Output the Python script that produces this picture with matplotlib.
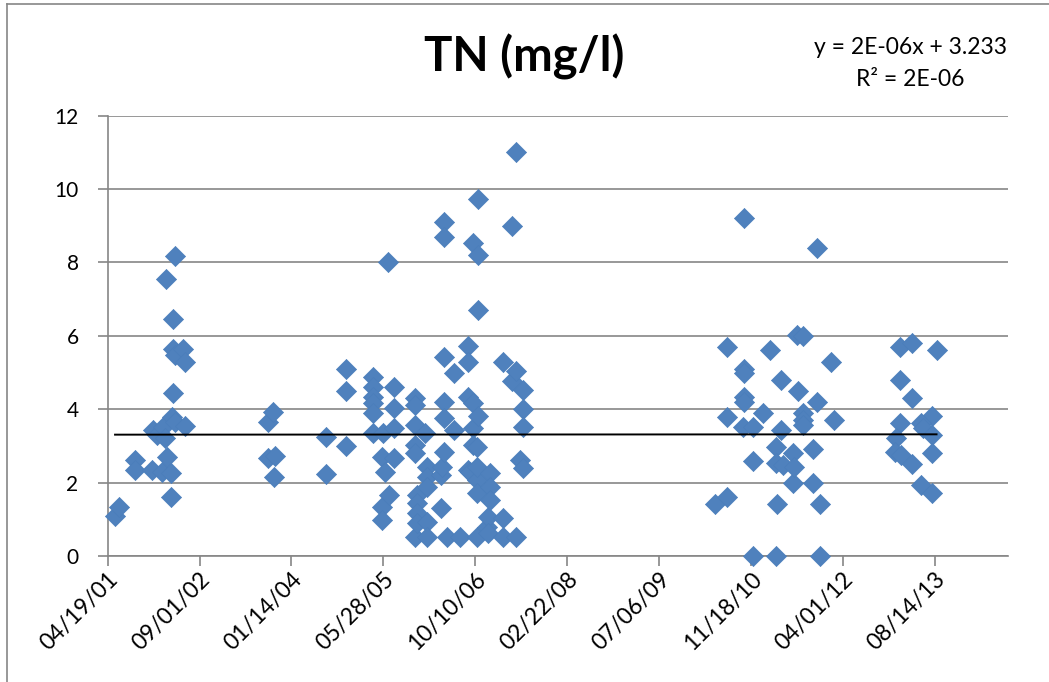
import matplotlib
matplotlib.use("Agg")
import matplotlib.pyplot as plt
from matplotlib.lines import Line2D
import numpy as np
import pandas as pd

# ---------------- data (Excel serial dates, TN in mg/l) ----------------
dates_serial = [
    # 2001-2002
    37040, 37063, 37149, 37149, 37239, 37248, 37267, 37294, 37303, 37312,
    37317, 37321, 37343, 37343, 37348, 37354, 37354, 37354, 37366, 37366,
    37366, 37411, 37421, 37421,
    # 2003-2004
    37874, 37874, 37901, 37910, 37905,
    38188, 38188, 38295, 38295, 38295,
    # 2005-2007
    38445, 38445, 38445, 38445, 38445, 38445,
    38500, 38491, 38491, 38491, 38509, 38532, 38527,
    38558, 38558, 38558, 38558,
    38672, 38672, 38672, 38672, 38672, 38672,
    38681, 38681, 38681, 38681,
    38726, 38736, 38736, 38736, 38736, 38736,
    38812, 38812, 38821,
    38830, 38830, 38830, 38830, 38830, 38830,
    38845, 38884, 38884, 38917,
    38962, 38962, 38962, 38962,
    38989, 38989, 38989, 38989, 38971,
    39008, 39008, 39008, 39008, 39008,
    39016, 39016, 39016, 39016,
    39065, 39071, 39071, 39080, 39080, 39080,
    39152, 39152, 39152,
    39198, 39198, 39220, 39220, 39220,
    39243, 39261, 39261, 39261, 39261,
    # 2010-2012
    40304, 40368, 40368, 40368, 40458, 40464, 40464, 40464, 40464, 40464,
    40513, 40513, 40513, 40567, 40607, 40636, 40636, 40636, 40643, 40667,
    40667, 40676, 40730, 40730, 40734, 40749, 40758, 40785, 40785, 40785,
    40785, 40836, 40836, 40863, 40863, 40876, 40876, 40936, 40953,
    # 2013
    41311, 41375, 41511, 41311, 41375, 41489, 41311, 41429, 41438, 41489,
    41289, 41284, 41320, 41489, 41375, 41429, 41489,
]

tn_values = [
    # 2001-2002
    1.09, 1.34, 2.62, 2.34, 2.34, 3.43, 3.30, 2.30, 3.52, 3.21,
    7.54, 2.71, 2.25, 1.62, 3.80, 6.45, 5.64, 4.43, 8.17, 5.48,
    3.66, 5.64, 5.29, 3.54,
    # 2003-2004
    3.66, 2.66, 3.93, 2.72, 2.14,
    3.23, 2.23, 5.10, 4.50, 3.00,
    # 2005-2007
    4.89, 4.61, 4.34, 4.16, 3.89, 3.34,
    3.34, 2.71, 1.34, 0.98, 2.30, 1.66, 8.02,
    4.61, 4.04, 3.50, 2.68,
    4.30, 4.11, 3.57, 3.02, 2.80, 0.53,
    1.66, 1.44, 1.16, 0.89,
    3.34, 2.43, 2.16, 1.89, 0.93, 0.53,
    2.21, 1.30, 2.43,
    9.11, 8.70, 5.41, 4.20, 3.75, 2.84,
    0.53, 4.99, 3.43, 0.53,
    5.72, 5.29, 4.34, 2.34,
    8.52, 4.16, 3.48, 3.02, 2.30,
    2.98, 2.07, 1.71, 0.53, 2.43,
    9.72, 8.20, 6.70, 3.82,
    0.80, 1.07, 0.62, 2.25, 1.89, 1.53,
    5.29, 1.03, 0.53,
    9.00, 4.78, 11.00, 5.04, 0.53,
    2.62, 4.52, 4.00, 3.52, 2.39,
    # 2010-2012
    1.42, 1.62, 5.70, 3.80, 3.52, 9.20, 5.11, 4.98, 4.34, 4.20,
    3.52, 2.60, 0.00, 3.91, 5.61, 2.98, 2.53, 0.00, 1.42, 4.81,
    3.43, 2.48, 2.80, 2.00, 2.43, 6.02, 4.50, 5.99, 3.89, 3.71,
    3.57, 2.91, 2.00, 8.40, 4.20, 1.42, 0.00, 5.29, 3.71,
    # 2013
    5.70, 5.80, 5.61, 4.80, 4.30, 3.82, 3.62, 3.62, 3.48, 3.30,
    3.21, 2.84, 2.75, 2.80, 2.51, 1.93, 1.71,
]

title_text = "TN (mg/l)"
equation_lines = ["y = 2E-06x + 3.233", "R\u00b2 = 2E-06"]
trend_slope = 2e-06      # per Excel serial day
trend_intercept = 3.233
x_axis_start = "2001-04-19"
x_axis_step_days = 500
x_axis_n_ticks = 10
x_axis_end_serial = 41900
y_ticks = [0, 2, 4, 6, 8, 10, 12]

# ---------------- helpers ----------------
EXCEL_EPOCH = pd.Timestamp("1899-12-30")
def serial_to_dt(s):
    return EXCEL_EPOCH + pd.to_timedelta(np.asarray(s, dtype=float), unit="D")

x_dates = serial_to_dt(dates_serial)

plt.rcParams["font.family"] = ["Lato", "DejaVu Sans"]

W, H = 1049, 682
fig = plt.figure(figsize=(W / 100, H / 100), dpi=100)

# chart outer border (left and top visible)
fig.add_artist(Line2D([7 / W, 7 / W], [0, 1 - 4 / H], transform=fig.transFigure,
                      color="#868686", lw=1.2))
fig.add_artist(Line2D([7 / W, 1], [1 - 4 / H, 1 - 4 / H], transform=fig.transFigure,
                      color="#868686", lw=1.2))

left, right, top, bottom = 107.7, 1008, 115.7, 556
ax = fig.add_axes([left / W, 1 - bottom / H, (right - left) / W, (bottom - top) / H])

grid_color = "#868686"
ax.set_ylim(0, 12)
ax.set_yticks(y_ticks)
ax.yaxis.grid(True, color=grid_color, lw=1.2)
ax.set_axisbelow(True)

tick_dates = pd.date_range(x_axis_start, periods=x_axis_n_ticks, freq=f"{x_axis_step_days}D")
ax.set_xlim(serial_to_dt([37000])[0], serial_to_dt([x_axis_end_serial])[0])
ax.set_xticks(tick_dates)
ax.set_xticklabels([d.strftime("%m/%d/%y") for d in tick_dates])

for s in ["top", "right"]:
    ax.spines[s].set_visible(False)
for s in ["left", "bottom"]:
    ax.spines[s].set_color(grid_color)
    ax.spines[s].set_linewidth(1.2)

ax.tick_params(axis="both", direction="out", length=7, width=1.2, color=grid_color,
               labelcolor="black")
ax.tick_params(axis="y", pad=14, labelsize=15)
ax.tick_params(axis="x", pad=2, labelsize=16.5)
for lab in ax.get_xticklabels():
    lab.set_rotation(45)
    lab.set_ha("right")
    lab.set_va("top")
    lab.set_rotation_mode("anchor")

# data points
ax.scatter(x_dates, tn_values, marker="D", s=105, color="#4F81BD",
           edgecolors="#4A7EBB", linewidths=0.5, zorder=3, clip_on=False)

# linear trendline (Excel equation in serial days)
xs = np.array([min(dates_serial), max(dates_serial)], dtype=float)
ys = trend_slope * xs + trend_intercept
ax.plot(serial_to_dt(xs), ys, color="black", lw=1.4, zorder=4)

# title and equation
fig.text(524 / W, 1 - 57 / H, title_text, ha="center", va="center",
         fontsize=34, fontweight="bold")
fig.text(910 / W, 1 - 47 / H, equation_lines[0], ha="center", va="center", fontsize=16.5)
fig.text(910 / W, 1 - 80 / H, equation_lines[1], ha="center", va="center", fontsize=16.5)

fig.savefig("out.png", dpi=100)
